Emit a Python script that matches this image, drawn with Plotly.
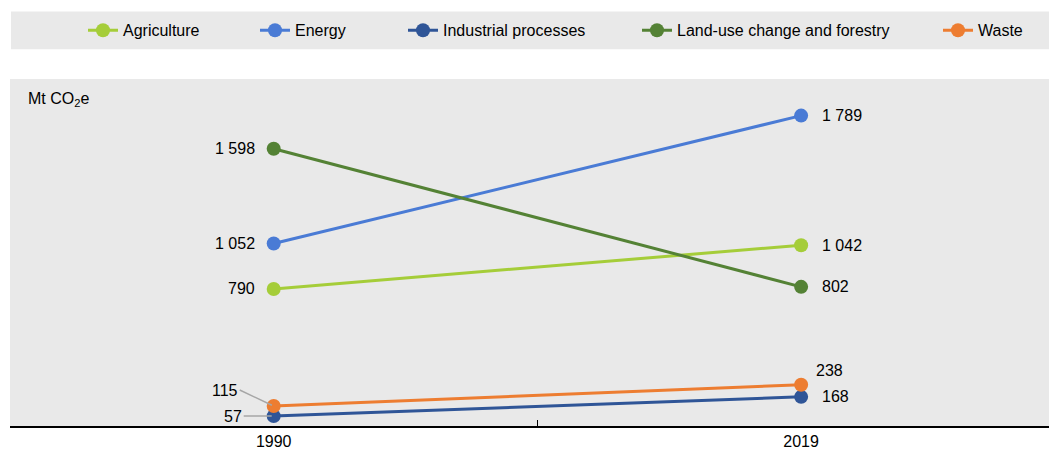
import plotly.graph_objects as go

years = ["1990", "2019"]
series = ["Agriculture", "Energy", "Industrial processes", "Land-use change and forestry", "Waste"]
agriculture = [790, 1042]
energy = [1052, 1789]
industrial = [57, 168]
landuse = [1598, 802]
waste = [115, 238]
values = [agriculture, energy, industrial, landuse, waste]
colors = ["#A5CD39", "#4A7BD5", "#2F5597", "#548235", "#ED7D31"]

FONT = "Liberation Sans, Arial, sans-serif"
FS = 16
W, H = 1049, 450
L, R, T, B = 10, 0, 79, 22
PW = W - L - R
PH = H - T - B


def px2paper_x(px):
    return (px - L) / PW


def px2paper_y(py):
    return (H - B - py) / PH


def fmt(v):
    return f"{v:,}".replace(",", "\u00a0")


fig = go.Figure()
legend_text_x = [123, 295, 443, 677, 978]
for i, (name, vals, col) in enumerate(zip(series, values, colors)):
    lg = "legend" if i == 0 else f"legend{i + 1}"
    fig.add_trace(go.Scatter(
        x=years, y=vals, name=name, mode="lines+markers",
        line=dict(color=col, width=3),
        marker=dict(color=col, size=14),
        legend=lg, hoverinfo="skip",
    ))
    fig.update_layout({lg: dict(
        orientation="h", x=px2paper_x(legend_text_x[i] - 40), xanchor="left",
        y=px2paper_y(30), yanchor="middle", bgcolor="rgba(0,0,0,0)",
        font=dict(family=FONT, size=FS, color="#000"), borderwidth=0,
    )})

annotations = []
# 1990 labels (left side)
left_special = {2: dict(ax=-30, ay=0), 4: dict(ax=-34, ay=-16)}
for i, vals in enumerate(values):
    v = vals[0]
    if i in left_special:
        sp = left_special[i]
        annotations.append(dict(
            x=0, y=v, xref="x", yref="y", text=fmt(v), showarrow=True,
            arrowhead=0, arrowwidth=1.5, arrowcolor="#A6A6A6", ax=sp["ax"], ay=sp["ay"],
            xanchor="right", yanchor="middle", standoff=2,
            font=dict(family=FONT, size=FS, color="#000"),
        ))
    else:
        annotations.append(dict(
            x=0, y=v, xref="x", yref="y", text=fmt(v), showarrow=False,
            xanchor="right", yanchor="middle", xshift=-17,
            font=dict(family=FONT, size=FS, color="#000"),
        ))
# 2019 labels (right side)
for i, vals in enumerate(values):
    v = vals[1]
    yshift = 14 if i == 4 else 0
    xshift = 13 if i == 4 else 19
    annotations.append(dict(
        x=1, y=v, xref="x", yref="y", text=fmt(v), showarrow=False,
        xanchor="left", yanchor="middle", xshift=xshift, yshift=yshift,
        font=dict(family=FONT, size=FS, color="#000"),
    ))
annotations.append(dict(
    x=px2paper_x(26), y=px2paper_y(100), xref="paper", yref="paper",
    text="Mt CO<sub>2</sub>e", showarrow=False, xanchor="left", yanchor="middle",
    font=dict(family=FONT, size=FS, color="#000"),
))

fig.update_layout(
    width=W, height=H,
    margin=dict(l=L, r=R, t=T, b=B, pad=0),
    paper_bgcolor="#FFFFFF", plot_bgcolor="#E9E9E9",
    font=dict(family=FONT, size=FS, color="#000"),
    annotations=annotations,
    shapes=[dict(type="rect", xref="paper", yref="paper",
                 x0=px2paper_x(11), x1=px2paper_x(1049),
                 y0=px2paper_y(49), y1=px2paper_y(11),
                 fillcolor="#E9E9E9", line=dict(width=0), layer="below")],
    xaxis=dict(type="category", range=[-0.5, 1.47], showgrid=False, zeroline=False,
               showline=True, linecolor="#000", linewidth=2,
               ticks="inside", tickson="boundaries", ticklen=6, tickcolor="#000", tickwidth=1,
               tickfont=dict(family=FONT, size=FS, color="#000")),
    yaxis=dict(range=[0, 2000], visible=False, showgrid=False, zeroline=False),
    showlegend=True,
)

fig.write_html("out.html")
